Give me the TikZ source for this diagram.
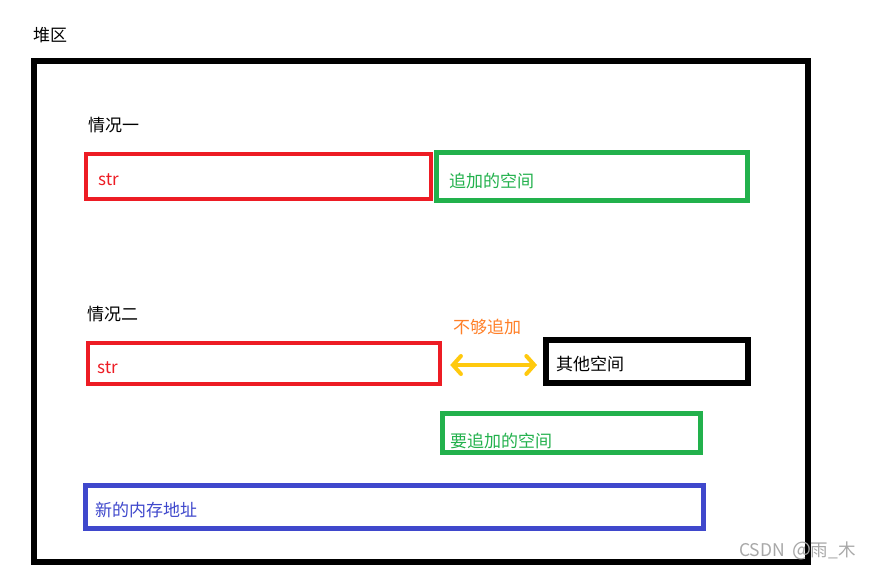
\documentclass[tikz,border=0pt]{standalone}
\usepackage{fontspec}
\setmainfont{Noto Sans CJK SC}
\usetikzlibrary{arrows.meta}
\definecolor{pred}{HTML}{ED1C24}
\definecolor{pgreen}{HTML}{22B14C}
\definecolor{pblue}{HTML}{3F48CC}
\definecolor{porange}{HTML}{FF7F27}
\definecolor{pyellow}{HTML}{FFC90E}
\definecolor{pgray}{HTML}{A8A8A8}
\tikzset{
  box/.style={draw=#1, rectangle, inner sep=0pt, fill=none},
  txt/.style={anchor=west, inner sep=0pt, font=\fontsize{17}{20}\selectfont},
}
\begin{document}
\begin{tikzpicture}[x=1pt, y=-1pt]
\useasboundingbox[fill=white] (0,0) rectangle (873,573);
% outer heap box
\node[box=black, line width=6pt, minimum width=774pt, minimum height=501pt] (heap) at (420.5,311) {};
\node[txt, anchor=west] (heaplbl) at (33,35.5) {堆区};
% case 1
\node[txt] (c1) at (88,125) {情况一};
\node[box=pred, line width=4.5pt, minimum width=345pt, minimum height=45pt] (r1) at (258.5,176.5) {};
\node[box=pgreen, line width=5pt, minimum width=311pt, minimum height=48pt] (g1) at (592,176.5) {};
\node[txt, text=pred] (s1) at (98,180) {str};
\node[txt, text=pgreen] (a1) at (449,181) {追加的空间};
% case 2
\node[txt] (c2) at (87,314) {情况二};
\node[box=pred, line width=4.5pt, minimum width=352pt, minimum height=41pt] (r2) at (264,363.5) {};
\node[txt, text=pred] (s2) at (97,368) {str};
\node[box=black, line width=6pt, minimum width=202pt, minimum height=43pt] (o) at (647,361.5) {};
\node[txt] (ol) at (556,364) {其他空间};
\node[txt, text=porange] (nf) at (453,327) {不够追加};
\draw[pyellow, line width=4pt, line cap=round,
  {Straight Barb[length=8pt,width=18pt,line cap=round]}-{Straight Barb[length=8pt,width=18pt,line cap=round]},
  shorten <=8pt, shorten >=6pt]
  ([yshift=-1.5pt]r2.east) -- ([yshift=-1.5pt]r2.east -| o.west);
\node[box=pgreen, line width=5pt, minimum width=258pt, minimum height=39pt] (g2) at (571.5,433) {};
\node[txt, text=pgreen] (a2) at (450,441) {要追加的空间};
\node[box=pblue, line width=5pt, minimum width=618pt, minimum height=43pt] (b) at (394.5,507) {};
\node[txt, text=pblue] (bl) at (95,510.5) {新的内存地址};
% watermark
\node[txt, text=pgray, font=\fontsize{17.5}{20}\selectfont] (wm) at (739,551) {CSDN\hspace{7pt}{\fontsize{20}{20}\selectfont @}雨\_木};
\end{tikzpicture}
\end{document}
